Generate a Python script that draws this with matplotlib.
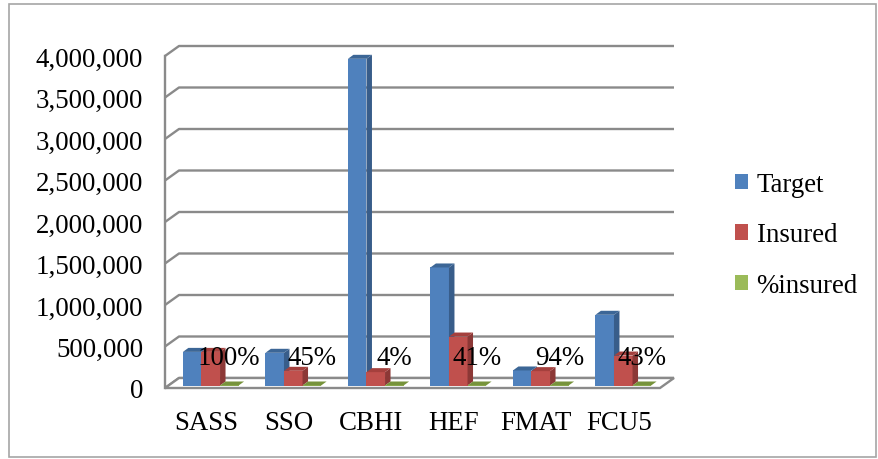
import matplotlib
matplotlib.use("Agg")
import matplotlib.pyplot as plt
import numpy as np
from matplotlib.patches import Polygon, Rectangle, Patch

categories = ["SASS", "SSO", "CBHI", "HEF", "FMAT", "FCU5"]
target = [405000, 394000, 3936000, 1422000, 181000, 852000]
insured = [405000, 177000, 161000, 590000, 173000, 361000]
pct_insured = [1.00, 0.45, 0.04, 0.41, 0.94, 0.43]
series_names = ["Target", "Insured", "%insured"]
y_ticks = np.arange(0, 4000001, 500000)

# (front, side, top) shades, Excel 2007 style
_COLORS = [
    ("#4F81BD", "#385D8A", "#3C6696"),
    ("#C0504D", "#8C3836", "#A5403D"),
    ("#9BBB59", "#71893F", "#77933C"),
]
_GRID = "#8a8a8a"
FONT = "Liberation Serif"
FS = 19.4

plt.rcParams["font.family"] = [FONT, "DejaVu Serif"]

fig = plt.figure(figsize=(8.79, 4.60), dpi=100)
# axes = front plane of the 3D box
ax = fig.add_axes([165 / 879, (460 - 389) / 460, 495 / 879, 332 / 460])
ax.set_xlim(-0.5, 5.5)
ax.set_ylim(0, 4000000)
ax.patch.set_visible(False)
for sp in ax.spines.values():
    sp.set_visible(False)


def px_to_data(dx_px, dy_px):
    inv = ax.transData.inverted()
    return inv.transform((dx_px, dy_px)) - inv.transform((0, 0))


wall = px_to_data(14, 10)       # depth of floor / walls
shift = px_to_data(4.5, 2.5)    # bars sit a little behind the front edge
depth = px_to_data(5.5, 4)      # bar depth
xl, xr = ax.get_xlim()

# back wall gridlines with the slanted left-wall segment
for yv in y_ticks:
    ax.plot([xl, xl + wall[0], xr + wall[0]], [yv, yv + wall[1], yv + wall[1]],
            color=_GRID, lw=1.7, zorder=1, clip_on=False, solid_capstyle="butt")
ax.plot([xl, xl], [0, y_ticks[-1]], color=_GRID, lw=1.7, zorder=1, clip_on=False)

# floor
floor = Polygon([(xl, 0), (xr, 0), (xr + wall[0], wall[1]), (xl + wall[0], wall[1])],
                closed=True, facecolor="white", edgecolor=_GRID, lw=1.7, zorder=2, clip_on=False)
ax.add_patch(floor)

width = 0.225
offsets = [-width, 0, width]
x = np.arange(len(categories))

for s, (vals, off) in enumerate(zip([target, insured, pct_insured], offsets)):
    front, side, top = _COLORS[s]
    bars = ax.bar(x + off + shift[0], vals, width, bottom=shift[1], color=front,
                  zorder=3, clip_on=False, label=series_names[s])
    for b in bars:
        x0, y0 = b.get_x(), b.get_y()
        w, h = b.get_width(), b.get_height()
        ax.add_patch(Polygon([(x0 + w, y0), (x0 + w + depth[0], y0 + depth[1]),
                              (x0 + w + depth[0], y0 + h + depth[1]), (x0 + w, y0 + h)],
                             closed=True, facecolor=side, edgecolor="none", zorder=3, clip_on=False))
        ax.add_patch(Polygon([(x0, y0 + h), (x0 + w, y0 + h),
                              (x0 + w + depth[0], y0 + h + depth[1]), (x0 + depth[0], y0 + h + depth[1])],
                             closed=True, facecolor=top, edgecolor="none", zorder=3, clip_on=False))

for i, p in enumerate(pct_insured):
    ax.annotate(f"{p:.0%}", xy=(i + offsets[2] + shift[0], shift[1] + p),
                xytext=(0, 20), textcoords="offset points", ha="center", va="center",
                fontsize=FS, color="black", zorder=10, annotation_clip=False)

ax.set_yticks(y_ticks, [f"{v:,}" for v in y_ticks])
ax.set_xticks(x, categories)
ax.tick_params(axis="y", length=0, pad=15.8, labelsize=FS)
ax.tick_params(axis="x", length=0, pad=16, labelsize=FS)

handles = [Patch(facecolor=c[0], edgecolor="none") for c in _COLORS]
fig.legend(handles, series_names, loc="center left",
           bbox_to_anchor=(735 / 879, (460 - 236) / 460), frameon=False,
           fontsize=FS, handlelength=0.5, handleheight=0.5, handletextpad=0.3,
           labelspacing=0.95, borderpad=0, borderaxespad=0)

fig.add_artist(Rectangle((9 / 879, 2 / 460), (876 - 9) / 879, (455 - 2) / 460,
                         transform=fig.transFigure, fill=False, edgecolor="#a6a6a6", lw=1.2))

fig.savefig("out.png", dpi=100, facecolor="white")
